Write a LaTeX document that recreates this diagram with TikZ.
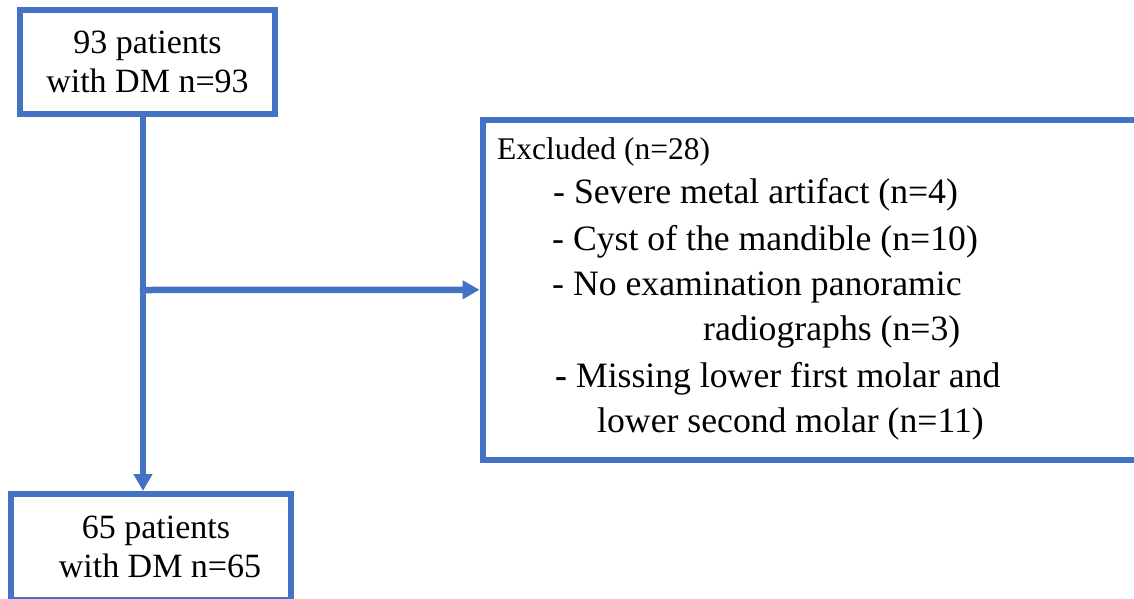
\documentclass[tikz,border=0pt]{standalone}
\usepackage{fontspec}
\setmainfont{Liberation Serif}
\usetikzlibrary{arrows.meta,calc}
\definecolor{boxblue}{RGB}{68,114,196}
\tikzset{
  flowbox/.style={draw=boxblue, line width=6pt, rectangle, inner sep=0pt, align=center,
                  font=\fontsize{34}{39.5}\selectfont},
  conn/.style={draw=boxblue, line width=6.5pt},
  arr/.style={conn, -{Triangle[length=17pt,width=18pt]}},
  itemtext/.style={anchor=base west, inner sep=0pt, font=\fontsize{35.7}{43}\selectfont},
  headtext/.style={anchor=base west, inner sep=0pt, font=\fontsize{31.5}{38}\selectfont}
}
\begin{document}
\begin{tikzpicture}[x=1pt, y=-1pt]
  \clip (0,0) rectangle (1134,598);
  \fill[white] (0,0) rectangle (1134,598);
  % boxes
  \node[flowbox, minimum width=255pt, minimum height=104pt] (top) at (147.5,62) {93 patients\\with DM n=93};
  \node[flowbox, minimum width=280pt, minimum height=106pt] (bot) at (151,547) {\hspace*{10pt}65 patients\\\hspace*{18pt}with DM n=65};
  \node[draw=boxblue, line width=6pt, rectangle, inner sep=0pt, minimum width=662pt, minimum height=340.5pt] (excl) at (813.5,289.75) {};
  % texts in the exclusion box
  \node[headtext] (t0) at (497,159) {Excluded (n=28)};
  \node[itemtext] (t1) at (553,203) {- Severe metal artifact (n=4)};
  \node[itemtext] (t2) at (552,250) {- Cyst of the mandible (n=10)};
  \node[itemtext] (t3) at (552,295) {- No examination panoramic};
  \node[itemtext] (t4) at (703,340) {radiographs (n=3)};
  \node[itemtext] (t5) at (555,387) {\textbf{-} Missing lower first molar and};
  \node[itemtext] (t6) at (597,432) {lower second molar (n=11)};
  % connectors
  \coordinate (j) at (143,290);
  \draw[arr] (top.south -| j) -- (bot.north -| j);
  \draw[arr] ([xshift=-3.25pt]j) -- (excl.west);
\end{tikzpicture}
\end{document}
